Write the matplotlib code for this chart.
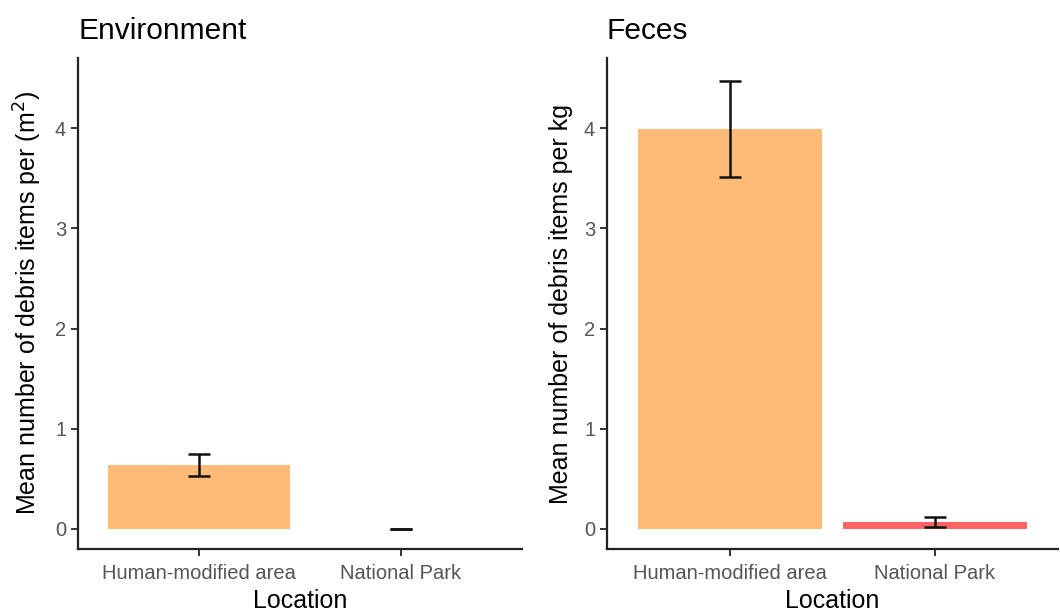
import numpy as np
import matplotlib.pyplot as plt

plt.rcParams['font.family'] = ['Liberation Sans', 'DejaVu Sans']

locations = ['Human-modified area', 'National Park']

env_mean = [0.64, 0.0]
env_se = [0.11, 0.0]

feces_mean = [3.99, 0.07]
feces_se = [0.48, 0.05]

bar_colors = ['#FDBB77', '#FF6464']

panels = [
    ('Environment', env_mean, env_se, 'Mean number of debris items per (m$^2$)', [bar_colors[0], bar_colors[0]]),
    ('Feces', feces_mean, feces_se, 'Mean number of debris items per kg', bar_colors),
]

fig = plt.figure(figsize=(10.6, 6.11), dpi=100)
axes = [fig.add_axes([0.0736, 0.1015, 0.419, 0.8035]),
        fig.add_axes([0.5726, 0.1015, 0.4254, 0.8035])]

x = np.arange(1, len(locations) + 1)
for ax, (title, mean, se, ylabel, colors) in zip(axes, panels):
    ax.bar(x, mean, width=0.9, color=colors, zorder=1)
    ax.errorbar(x, mean, yerr=se, fmt='none', ecolor='#111111', elinewidth=1.8,
                capsize=8, capthick=1.8, zorder=2)
    ax.set_xlim(0.4, 2.6)
    ax.set_ylim(-0.2, 4.7)
    ax.set_xticks(x)
    ax.set_xticklabels(locations)
    ax.set_yticks([0, 1, 2, 3, 4])
    ax.tick_params(axis='both', labelsize=14.5, labelcolor='#555555',
                   color='#333333', length=5, width=1.4)
    ax.tick_params(axis='x', pad=6)
    for side in ['top', 'right']:
        ax.spines[side].set_visible(False)
    for side in ['left', 'bottom']:
        ax.spines[side].set_linewidth(1.6)
        ax.spines[side].set_color('#222222')
    ax.set_xlabel('Location', fontsize=18, labelpad=4)
    ax.set_ylabel(ylabel, fontsize=18, labelpad=8)
    ax.set_title(title, fontsize=21.5, loc='left', pad=14)

fig.savefig('out.png', dpi=100)
